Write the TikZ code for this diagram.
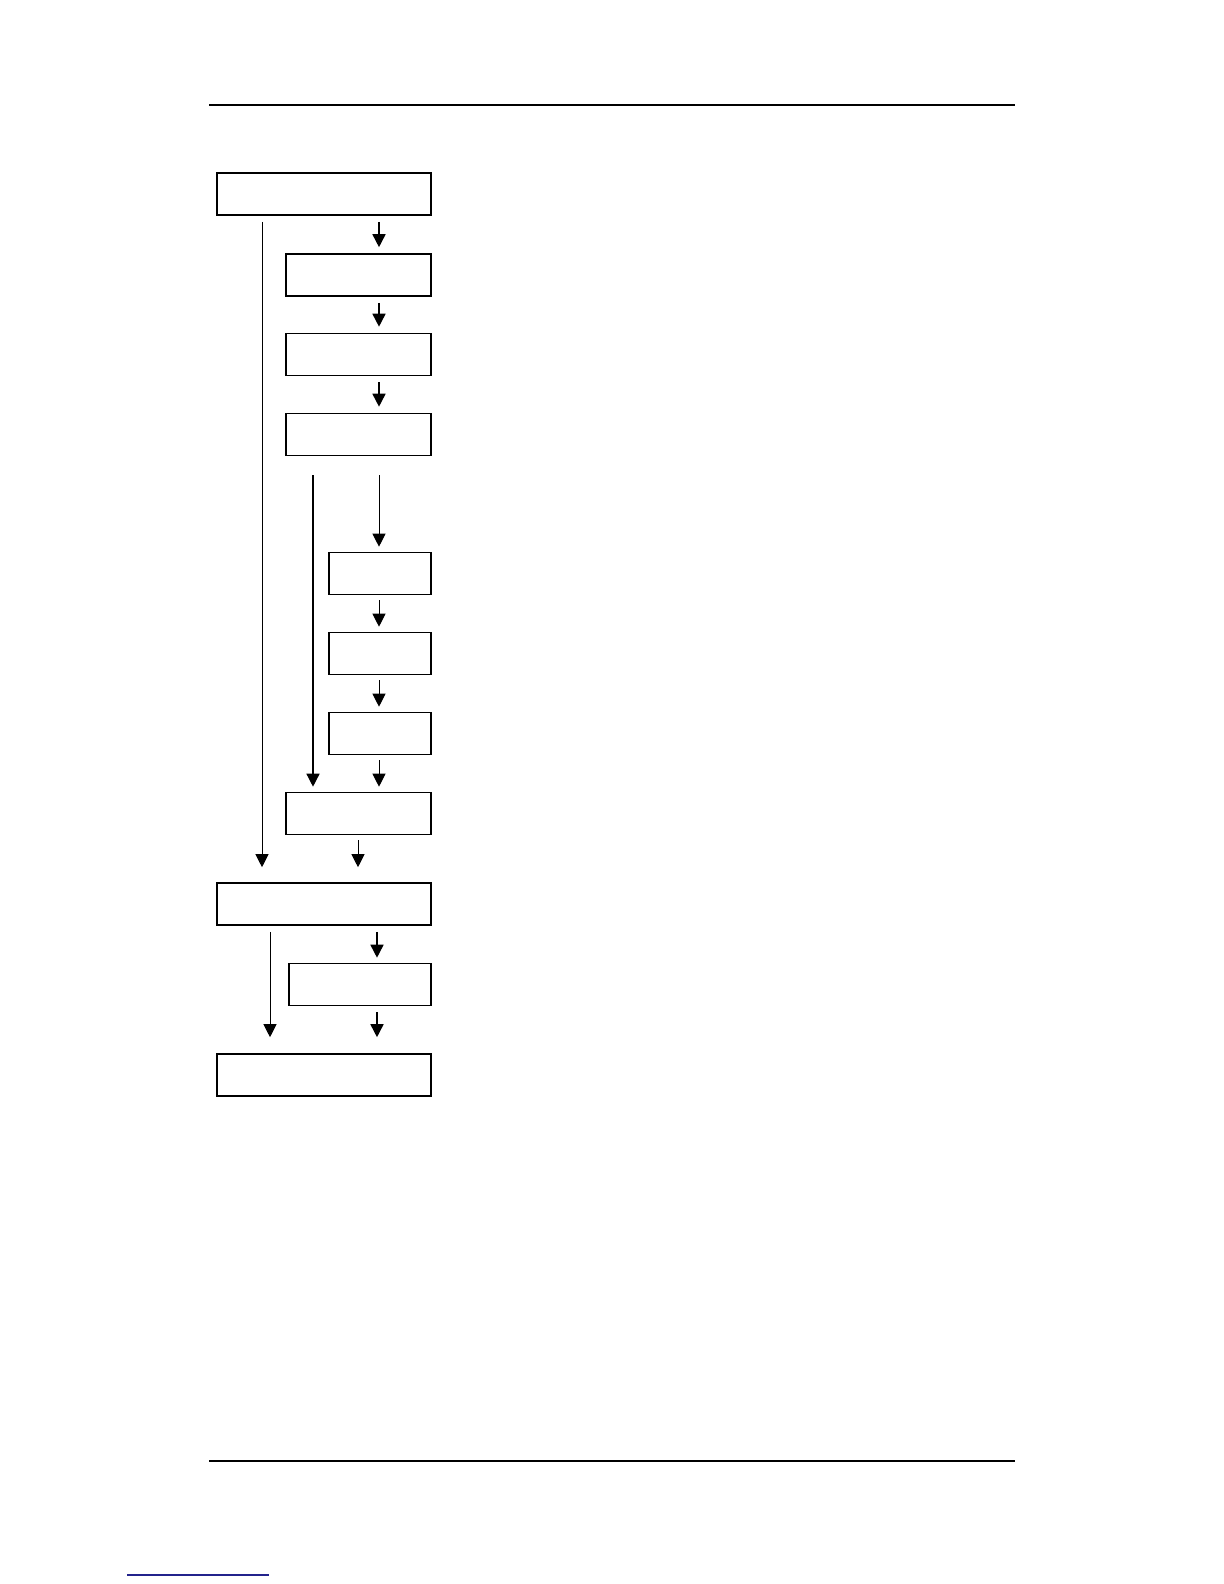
\documentclass[tikz,border=0pt]{standalone}
\usepackage{tikz}
\usetikzlibrary{arrows.meta,positioning,calc}
\definecolor{rulenavy}{RGB}{35,35,140}

\begin{document}
\begin{tikzpicture}[x=0.5pt, y=-0.5pt,
  box/.style={draw=black, line width=0.8pt, minimum height=21pt, inner sep=0pt},
  arr/.style={-{Triangle[length=6.5pt,width=6.5pt]}, line width=0.8pt},
  longarr/.style={-{Triangle[length=6.5pt,width=6.5pt]}, line width=0.5pt}]
  \useasboundingbox (0,0) rectangle (1224,1584);

  % page rules
  \draw [line width=1pt] (209,105) -- (1015,105);
  \draw [line width=1pt] (209,1461) -- (1015,1461);
  \draw [rulenavy, line width=1pt] (127,1575) -- (269,1575);

  \node (b1) [box, minimum width = 107pt] at (324,194) {};
  \node (b2) [box, minimum width = 72.5pt] at (358.5,275) {};
  \node (b3) [box, minimum width = 72.5pt] at (358.5,354.5) {};
  \node (b4) [box, minimum width = 72.5pt] at (358.5,434.5) {};

  \node (b5) [box, minimum width = 51pt] at (380,573.5) {};
  \node (b6) [box, minimum width = 51pt] at (380,653.5) {};
  \node (b7) [box, minimum width = 51pt] at (380,733.5) {};

  \node (b8) [box, minimum width = 72.5pt] at (358.5,813.5) {};
  \node (b9) [box, minimum width = 107pt] at (324,904) {};
  \node (b10) [box, minimum width = 71pt] at (360,984.5) {};
  \node (b11) [box, minimum width = 107pt] at (324,1075) {};

  % columns of the connectors
  \coordinate (xl) at (262,0);
  \coordinate (xm) at (313,0);
  \coordinate (xc) at (358,0);
  \coordinate (xq) at (270,0);
  \coordinate (xs) at (377,0);
  \coordinate (xr) at (379,0);

  \draw [arr, shorten <=3pt, shorten >=3pt] (b1.south -| xr) -- (b2.north -| xr);
  \draw [arr, shorten <=3pt, shorten >=3pt] (b2.south -| xr) -- (b3.north -| xr);
  \draw [arr, shorten <=3pt, shorten >=3pt] (b3.south -| xr) -- (b4.north -| xr);
  \draw [longarr, shorten <=3pt, shorten >=7.5pt] (b1.south -| xl) -- (b9.north -| xl);

  \draw [longarr, shorten <=9.5pt, shorten >=2.5pt] (b4.south -| xr) -- (b5.north -| xr);
  \draw [longarr, line width=0.7pt, shorten <=9.5pt, shorten >=2.5pt] (b4.south -| xm) -- (b8.north -| xm);
  \draw [arr, line width=0.5pt, shorten <=2.5pt, shorten >=2.5pt] (b5.south -| xr) -- (b6.north -| xr);
  \draw [arr, line width=0.5pt, shorten <=2.5pt, shorten >=2.5pt] (b6.south -| xr) -- (b7.north -| xr);
  \draw [arr, line width=0.5pt, shorten <=2.5pt, shorten >=2.5pt] (b7.south -| xr) -- (b8.north -| xr);

  \draw [longarr, shorten <=2.5pt, shorten >=7.5pt] (b8.south -| xc) -- (b9.north -| xc);
  \draw [longarr, shorten <=3pt, shorten >=8pt] (b9.south -| xq) -- (b11.north -| xq);
  \draw [arr, shorten <=3pt, shorten >=2.5pt] (b9.south -| xs) -- (b10.north -| xs);
  \draw [arr, shorten <=3pt, shorten >=8pt] (b10.south -| xs) -- (b11.north -| xs);
\end{tikzpicture}
\end{document}
